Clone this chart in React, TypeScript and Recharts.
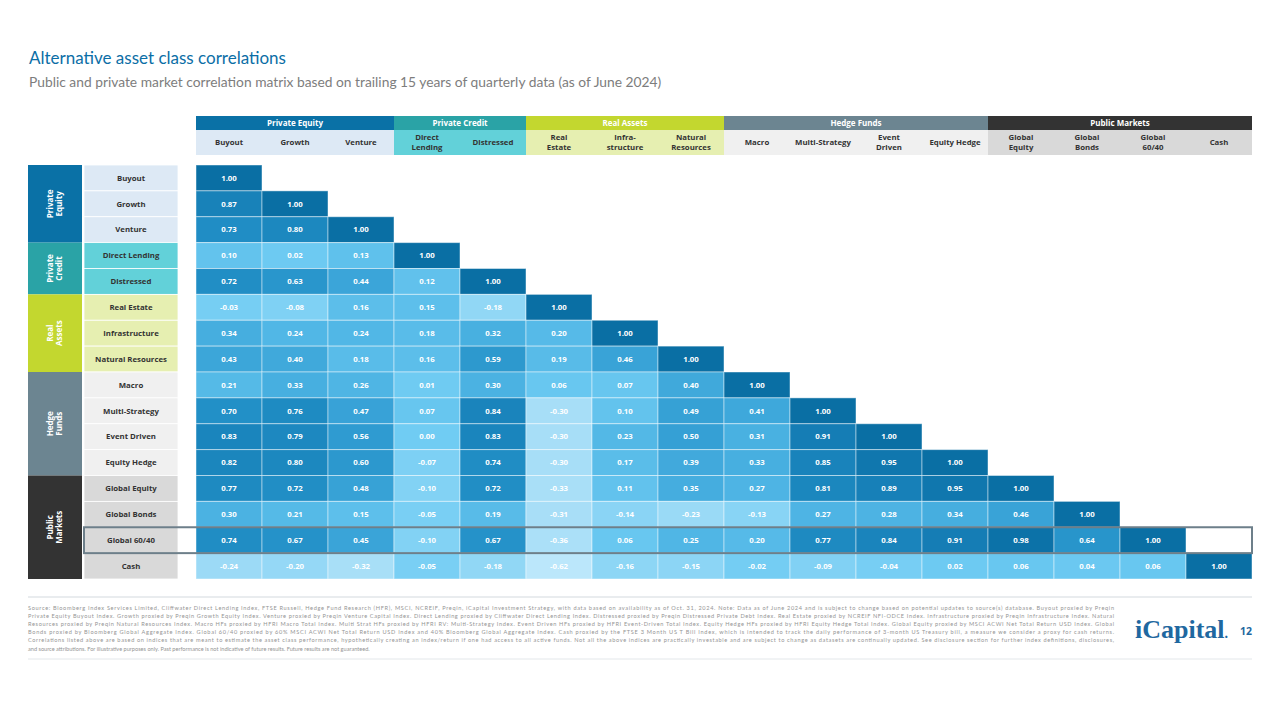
import React from 'react';
import { ScatterChart, Scatter, XAxis, YAxis } from 'recharts';

// ---------- DATA ----------
const categories = [
  'Buyout', 'Growth', 'Venture', 'Direct Lending', 'Distressed', 'Real Estate', 'Infrastructure',
  'Natural Resources', 'Macro', 'Multi-Strategy', 'Event Driven', 'Equity Hedge', 'Global Equity',
  'Global Bonds', 'Global 60/40', 'Cash',
];
const columnLabels = [
  ['Buyout'], ['Growth'], ['Venture'], ['Direct', 'Lending'], ['Distressed'], ['Real', 'Estate'],
  ['Infra-', 'structure'], ['Natural', 'Resources'], ['Macro'], ['Multi-Strategy'], ['Event', 'Driven'],
  ['Equity Hedge'], ['Global', 'Equity'], ['Global', 'Bonds'], ['Global', '60/40'], ['Cash'],
];
const groupNames = ['Private Equity', 'Private Credit', 'Real Assets', 'Hedge Funds', 'Public Markets'];
const groupShortLabels = [['Private', 'Equity'], ['Private', 'Credit'], ['Real', 'Assets'], ['Hedge', 'Funds'], ['Public', 'Markets']];
const groupSizes = [3, 2, 3, 4, 4];
const highlightedRow = 'Global 60/40';

const corrBuyout = [1.0];
const corrGrowth = [0.87, 1.0];
const corrVenture = [0.73, 0.8, 1.0];
const corrDirectLending = [0.1, 0.02, 0.13, 1.0];
const corrDistressed = [0.72, 0.63, 0.44, 0.12, 1.0];
const corrRealEstate = [-0.03, -0.08, 0.16, 0.15, -0.18, 1.0];
const corrInfrastructure = [0.34, 0.24, 0.24, 0.18, 0.32, 0.2, 1.0];
const corrNaturalResources = [0.43, 0.4, 0.18, 0.16, 0.59, 0.19, 0.46, 1.0];
const corrMacro = [0.21, 0.33, 0.26, 0.01, 0.3, 0.06, 0.07, 0.4, 1.0];
const corrMultiStrategy = [0.7, 0.76, 0.47, 0.07, 0.84, -0.3, 0.1, 0.49, 0.41, 1.0];
const corrEventDriven = [0.83, 0.79, 0.56, 0.0, 0.83, -0.3, 0.23, 0.5, 0.31, 0.91, 1.0];
const corrEquityHedge = [0.82, 0.8, 0.6, -0.07, 0.74, -0.3, 0.17, 0.39, 0.33, 0.85, 0.95, 1.0];
const corrGlobalEquity = [0.77, 0.72, 0.48, -0.1, 0.72, -0.33, 0.11, 0.35, 0.27, 0.81, 0.89, 0.95, 1.0];
const corrGlobalBonds = [0.3, 0.21, 0.15, -0.05, 0.19, -0.31, -0.14, -0.23, -0.13, 0.27, 0.28, 0.34, 0.46, 1.0];
const corrGlobal6040 = [0.74, 0.67, 0.45, -0.1, 0.67, -0.36, 0.06, 0.25, 0.2, 0.77, 0.84, 0.91, 0.98, 0.64, 1.0];
const corrCash = [-0.24, -0.2, -0.32, -0.05, -0.18, -0.62, -0.16, -0.15, -0.02, -0.09, -0.04, 0.02, 0.06, 0.04, 0.06, 1.0];

const correlationRows = [
  corrBuyout, corrGrowth, corrVenture, corrDirectLending, corrDistressed, corrRealEstate, corrInfrastructure,
  corrNaturalResources, corrMacro, corrMultiStrategy, corrEventDriven, corrEquityHedge, corrGlobalEquity,
  corrGlobalBonds, corrGlobal6040, corrCash,
];

const titleText = 'Alternative asset class correlations';
const subtitleText = 'Public and private market correlation matrix based on trailing 15 years of quarterly data (as of June 2024)';
const footnoteLines = [
  'Source: Bloomberg Index Services Limited, Cliffwater Direct Lending Index, FTSE Russell, Hedge Fund Research (HFR), MSCI, NCREIF, Preqin, iCapital Investment Strategy, with data based on availability as of Oct. 31, 2024. Note: Data as of June 2024 and is subject to change based on potential updates to source(s) database. Buyout proxied by Preqin',
  'Private Equity Buyout Index. Growth proxied by Preqin Growth Equity Index. Venture proxied by Preqin Venture Capital Index. Direct Lending proxied by Cliffwater Direct Lending Index. Distressed proxied by Preqin Distressed Private Debt Index. Real Estate proxied by NCREIF NFI-ODCE Index. Infrastructure proxied by Preqin Infrastructure Index. Natural',
  'Resources proxied by Preqin Natural Resources Index. Macro HFs proxied by HFRI Macro Total Index. Multi Strat HFs proxied by HFRI RV: Multi-Strategy Index. Event Driven HFs proxied by HFRI Event-Driven Total Index. Equity Hedge HFs proxied by HFRI Equity Hedge Total Index. Global Equity proxied by MSCI ACWI Net Total Return USD Index. Global',
  'Bonds proxied by Bloomberg Global Aggregate Index. Global 60/40 proxied by 60% MSCI ACWI Net Total Return USD Index and 40% Bloomberg Global Aggregate Index. Cash proxied by the FTSE 3 Month US T Bill Index, which is intended to track the daily performance of 3-month US Treasury bill, a measure we consider a proxy for cash returns.',
  'Correlations listed above are based on indices that are meant to estimate the asset class performance, hypothetically creating an index/return if one had access to all active funds. Not all the above indices are practically investable and are subject to change as datasets are continually updated. See disclosure section for further index definitions, disclosures,',
  'and source attributions. For illustrative purposes only. Past performance is not indicative of future results. Future results are not guaranteed.',
];
const logoText = 'iCapital';
const pageNumber = '12';

// ---------- STYLE / LAYOUT ----------
const W = 1280;
const H = 720;
const M = { top: 116, right: 28, bottom: 141, left: 28 };
const Y_AXIS_W = 168;
const X_AXIS_H = 49;
const N = categories.length;
const PLOT_W = W - M.left - M.right - Y_AXIS_W;
const PLOT_H = H - M.top - M.bottom - X_AXIS_H;
const COL_W = PLOT_W / N;
const ROW_H = PLOT_H / N;
const GROUP_BAND_H = 14;
const SUB_HEAD_TOP = M.top + GROUP_BAND_H;
const SUB_HEAD_H = 25;
const GROUP_BLOCK_W = 54;
const ROW_LABEL_X = M.left + GROUP_BLOCK_W + 2;
const ROW_LABEL_W = 94;

const groupColors = ['#0a71a6', '#2aa3a6', '#c3d72f', '#6c8591', '#333333'];
const subHeaderColors = ['#dde9f5', '#62d1d9', '#e6efb1', '#f0f0f0', '#d9d9d9'];
const FONT = "'Open Sans', 'Noto Sans', sans-serif";
const TEXT_DARK = '#333333';
const HIGHLIGHT_STROKE = '#6d7f8a';

const colorStops: [number, string][] = [
  [-0.65, '#bde8fb'],
  [-0.3, '#a7def7'],
  [0.0, '#70ccf3'],
  [0.25, '#50b6e5'],
  [0.45, '#3aa4d8'],
  [0.7, '#2290c7'],
  [0.9, '#167fb7'],
  [1.0, '#0a6fa4'],
];
const hexToRgb = (h: string) => [1, 3, 5].map((i) => parseInt(h.slice(i, i + 2), 16));
const shade = (v: number) => {
  if (v <= colorStops[0][0]) return colorStops[0][1];
  for (let i = 1; i < colorStops.length; i++) {
    const [v1, c1] = colorStops[i];
    const [v0, c0] = colorStops[i - 1];
    if (v <= v1) {
      const t = (v - v0) / (v1 - v0);
      const a = hexToRgb(c0);
      const b = hexToRgb(c1);
      const m = a.map((x, k) => Math.round(x + (b[k] - x) * t));
      return `rgb(${m[0]},${m[1]},${m[2]})`;
    }
  }
  return colorStops[colorStops.length - 1][1];
};

const groupStart = groupSizes.map((_, g) => groupSizes.slice(0, g).reduce((a, b) => a + b, 0));
const groupOf = (i: number) => {
  for (let g = groupSizes.length - 1; g >= 0; g--) if (i >= groupStart[g]) return g;
  return 0;
};
const highlightIndex = categories.indexOf(highlightedRow);

const cellData = correlationRows.flatMap((row, r) =>
  row.map((v, c) => ({ x: c + 0.5, y: r + 0.5, v, row: categories[r], col: categories[c] }))
);
const ticks = categories.map((_, i) => i + 0.5);

// ---------- RENDERERS ----------
const ColumnTick = (props: any) => {
  const { x, payload } = props;
  const c = Math.floor(payload.value);
  const g = groupOf(c);
  const left = x - COL_W / 2;
  const lines = columnLabels[c];
  const cy = SUB_HEAD_TOP + SUB_HEAD_H / 2;
  return (
    <g>
      {c === groupStart[g] && (
        <g>
          <rect x={left} y={M.top} width={COL_W * groupSizes[g]} height={GROUP_BAND_H} fill={groupColors[g]} />
          <text
            x={left + (COL_W * groupSizes[g]) / 2}
            y={M.top + GROUP_BAND_H / 2}
            dy="0.35em"
            textAnchor="middle"
            fill="#ffffff"
            fontFamily={FONT}
            fontWeight={700}
            fontSize={8}
          >
            {groupNames[g]}
          </text>
        </g>
      )}
      <rect x={left} y={SUB_HEAD_TOP} width={COL_W} height={SUB_HEAD_H} fill={subHeaderColors[g]} />
      <text x={x} y={cy} textAnchor="middle" fill={TEXT_DARK} fontFamily={FONT} fontWeight={700} fontSize={7.8}>
        {lines.map((l, i) => (
          <tspan key={i} x={x} y={cy + (i - (lines.length - 1) / 2) * 9.5} dy="0.35em">
            {l}
          </tspan>
        ))}
      </text>
    </g>
  );
};

const RowTick = (props: any) => {
  const { y, payload } = props;
  const r = Math.floor(payload.value);
  const g = groupOf(r);
  const top = y - ROW_H / 2;
  const blockH = ROW_H * groupSizes[g];
  const bx = M.left + GROUP_BLOCK_W / 2;
  const by = top + blockH / 2;
  const short = groupShortLabels[g];
  return (
    <g>
      {r === groupStart[g] && (
        <g>
          <rect x={M.left} y={top} width={GROUP_BLOCK_W} height={blockH} fill={groupColors[g]} />
          <text
            transform={`translate(${bx},${by}) rotate(-90)`}
            textAnchor="middle"
            fill="#ffffff"
            fontFamily={FONT}
            fontWeight={700}
            fontSize={8}
          >
            {short.map((l, i) => (
              <tspan key={i} x={0} y={(i - (short.length - 1) / 2) * 9} dy="0.35em">
                {l}
              </tspan>
            ))}
          </text>
        </g>
      )}
      <rect
        x={ROW_LABEL_X}
        y={top}
        width={ROW_LABEL_W}
        height={ROW_H}
        fill={subHeaderColors[g]}
        stroke="#ffffff"
        strokeWidth={0.8}
      />
      <text
        x={ROW_LABEL_X + ROW_LABEL_W / 2}
        y={y}
        dy="0.35em"
        textAnchor="middle"
        fill={TEXT_DARK}
        fontFamily={FONT}
        fontWeight={700}
        fontSize={7.8}
      >
        {categories[r]}
      </text>
      {r === N - 1 && (
        <rect
          x={ROW_LABEL_X}
          y={top - (N - 1 - highlightIndex) * ROW_H}
          width={W - M.right - ROW_LABEL_X}
          height={ROW_H}
          fill="none"
          stroke={HIGHLIGHT_STROKE}
          strokeWidth={2}
        />
      )}
    </g>
  );
};

const CellShape = (props: any) => {
  const { cx, cy, payload } = props;
  if (cx == null || cy == null) return null;
  return (
    <g>
      <rect
        x={cx - COL_W / 2}
        y={cy - ROW_H / 2}
        width={COL_W}
        height={ROW_H}
        fill={shade(payload.v)}
        stroke="#ffffff"
        strokeOpacity={0.45}
        strokeWidth={1}
      />
      <text x={cx} y={cy} dy="0.35em" textAnchor="middle" fill="#ffffff" fontFamily={FONT} fontWeight={700} fontSize={7.8}>
        {payload.v.toFixed(2)}
      </text>
    </g>
  );
};

export default function App() {
  return (
    <div style={{ position: 'absolute', left: 0, top: 0, width: W, height: H, background: '#ffffff' }}>
      <svg width={W} height={H} style={{ position: 'absolute', left: 0, top: 0 }}>
        <text x={29} y={64} fill="#0b6ea6" fontFamily="Lato, sans-serif" fontSize={17}>
          {titleText}
        </text>
        <text x={29} y={87} fill="#7d7d7d" fontFamily="Lato, sans-serif" fontSize={13.8}>
          {subtitleText}
        </text>
        <line x1={28} x2={1252} y1={597} y2={597} stroke="#d3d9de" strokeWidth={1} />
        {footnoteLines.map((l, i) => (
          <text
            key={i}
            x={28}
            y={609.5 + i * 8.2}
            fill="#949494"
            fontFamily="Lato, sans-serif"
            fontSize={5.6}
            {...(i < footnoteLines.length - 1 ? { textLength: 1086, lengthAdjust: 'spacing' } : {})}
          >
            {l}
          </text>
        ))}
        <text x={1135} y={638} fill="#1f68a0" fontFamily="'Liberation Serif', serif" fontWeight={700} fontSize={26}>
          {logoText}
          <tspan fontSize={14}>.</tspan>
        </text>
        <text x={1240} y={635} fill="#1f68a0" fontFamily={FONT} fontWeight={700} fontSize={10.5}>
          {pageNumber}
        </text>
        <line x1={28} x2={1252} y1={659} y2={659} stroke="#e3e7ea" strokeWidth={1} />
      </svg>
      <div style={{ position: 'absolute', left: 0, top: 0 }}>
        <ScatterChart width={W} height={H} margin={M}>
          <XAxis
            type="number"
            dataKey="x"
            xAxisId="x"
            orientation="top"
            domain={[0, N]}
            ticks={ticks}
            interval={0}
            height={X_AXIS_H}
            axisLine={false}
            tickLine={false}
            tick={<ColumnTick />}
          />
          <YAxis
            type="number"
            dataKey="y"
            yAxisId="y"
            domain={[0, N]}
            reversed
            ticks={ticks}
            interval={0}
            width={Y_AXIS_W}
            axisLine={false}
            tickLine={false}
            tick={<RowTick />}
          />
          <Scatter data={cellData} xAxisId="x" yAxisId="y" shape={<CellShape />} isAnimationActive={false} />
        </ScatterChart>
      </div>
    </div>
  );
}
